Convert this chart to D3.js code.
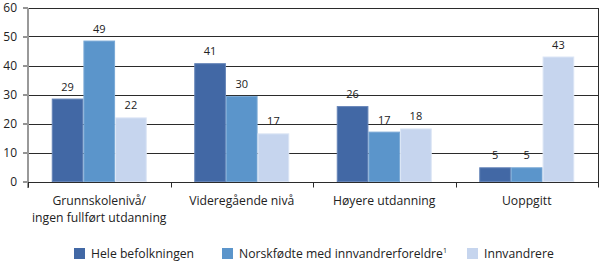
<!DOCTYPE html>
<html>
<head>
<meta charset="utf-8">
<script src="https://cdn.jsdelivr.net/npm/d3@7"></script>
<style>
  body { margin: 0; background: #fff; }
  svg { font-family: "Open Sans", sans-serif; }
</style>
</head>
<body>
<div id="chart"></div>
<script>
var categories = [
  ['Grunnskolenivå/', 'ingen fullført utdanning'],
  ['Videregående nivå'],
  ['Høyere utdanning'],
  ['Uoppgitt']
];
var seriesNames = ['Hele befolkningen', 'Norskfødte med innvandrerforeldre', 'Innvandrere'];
// values (labels are shown rounded)
var hele = [28.6, 40.8, 26.0, 4.9];
var norskfodte = [48.6, 29.5, 17.2, 4.9];
var innvandrere = [22.1, 16.6, 18.3, 43.1];
var yTicks = [0, 10, 20, 30, 40, 50, 60];

var colors = ['#4268a5', '#5b95cb', '#c6d5ee'];
var edges = ['#6584b8', '#7aa9d6', '#dbe5f5'];
var series = [hele, norskfodte, innvandrere];

var width = 600, height = 262;
var mLeft = 28, mRight = 598, mTop = 7.5, mBottom = 181.5;

var svg = d3.select('#chart').append('svg')
  .attr('width', width)
  .attr('height', height);

var x0 = d3.scaleBand()
  .domain(d3.range(categories.length))
  .range([mLeft, mRight])
  .paddingInner(0)
  .paddingOuter(0);

var x1 = d3.scaleBand()
  .domain(d3.range(series.length))
  .range([0, x0.bandwidth()])
  .paddingOuter(0.75)
  .paddingInner(0);

var y = d3.scaleLinear().domain([0, 60]).range([mBottom, mTop]);

// grid lines
svg.append('g').selectAll('line')
  .data(yTicks.slice(1))
  .enter().append('line')
  .attr('x1', mLeft).attr('x2', mRight)
  .attr('y1', function(d){ return Math.round(y(d)) + 0.5; })
  .attr('y2', function(d){ return Math.round(y(d)) + 0.5; })
  .attr('stroke', '#2b2b2b')
  .attr('stroke-width', 1);

// right border
svg.append('line')
  .attr('x1', mRight + 0.5).attr('x2', mRight + 0.5)
  .attr('y1', Math.round(y(60))).attr('y2', Math.round(y(0)) + 1)
  .attr('stroke', '#2b2b2b');

// bars
var groups = svg.append('g').selectAll('g')
  .data(categories)
  .enter().append('g')
  .attr('transform', function(d, i){ return 'translate(' + x0(i) + ',0)'; });

groups.selectAll('rect')
  .data(function(d, i){ return series.map(function(s, j){ return { s: j, v: s[i] }; }); })
  .enter().append('rect')
  .attr('x', function(d){ return x1(d.s) + 0.5; })
  .attr('width', x1.bandwidth() - 1)
  .attr('y', function(d){ return y(d.v) + 0.5; })
  .attr('height', function(d){ return y(0) - y(d.v) - 0.5; })
  .attr('fill', function(d){ return colors[d.s]; })
  .attr('stroke', function(d){ return edges[d.s]; })
  .attr('stroke-width', 1);

groups.selectAll('text')
  .data(function(d, i){ return series.map(function(s, j){ return { s: j, v: s[i] }; }); })
  .enter().append('text')
  .attr('x', function(d){ return x1(d.s) + x1.bandwidth() / 2; })
  .attr('y', function(d){ return y(d.v) - 8; })
  .attr('text-anchor', 'middle')
  .attr('font-size', 11)
  .attr('fill', '#222')
  .text(function(d){ return Math.round(d.v); });

// y axis
var yAxis = svg.append('g')
  .attr('transform', 'translate(' + mLeft + ',0)')
  .call(d3.axisLeft(y).tickValues(yTicks).tickSize(5).tickPadding(6).tickFormat(d3.format('d')));
yAxis.select('.domain').remove();
yAxis.selectAll('.tick line').attr('stroke', '#2b2b2b');
yAxis.selectAll('.tick text').attr('font-size', 12).attr('fill', '#222').attr('font-family', '"Open Sans", sans-serif');
svg.append('line')
  .attr('x1', mLeft).attr('x2', mLeft)
  .attr('y1', Math.round(y(60))).attr('y2', Math.round(y(0)) + 6)
  .attr('stroke', '#999').attr('stroke-width', 2);

// x axis
var xAxis = svg.append('g')
  .attr('transform', 'translate(0,' + (Math.round(y(0)) + 0.5) + ')');
xAxis.append('line')
  .attr('x1', mLeft).attr('x2', mRight + 1)
  .attr('stroke', '#2b2b2b');
xAxis.selectAll('line.tk')
  .data(d3.range(categories.length + 1))
  .enter().append('line')
  .attr('class', 'tk')
  .attr('x1', function(d){ return Math.round(mLeft + d * x0.bandwidth()) + 0.5; })
  .attr('x2', function(d){ return Math.round(mLeft + d * x0.bandwidth()) + 0.5; })
  .attr('y1', 0).attr('y2', 5)
  .attr('stroke', '#2b2b2b');

var catLabels = svg.append('g').selectAll('text')
  .data(categories)
  .enter().append('text')
  .attr('text-anchor', 'middle')
  .attr('font-size', 12.2)
  .attr('fill', '#222')
  .attr('x', function(d, i){ return x0(i) + x0.bandwidth() / 2; })
  .attr('y', 205);
catLabels.selectAll('tspan')
  .data(function(d){ return d; })
  .enter().append('tspan')
  .attr('x', function(){ return d3.select(this.parentNode).attr('x'); })
  .attr('dy', function(d, i){ return i === 0 ? 0 : 16.5; })
  .text(function(d){ return d; });

// legend
var legendX = [74, 222, 467];
var legend = svg.append('g').selectAll('g')
  .data(seriesNames)
  .enter().append('g')
  .attr('transform', function(d, i){ return 'translate(' + legendX[i] + ',248)'; });
legend.append('rect')
  .attr('width', 11).attr('height', 11)
  .attr('fill', function(d, i){ return colors[i]; });
var lt = legend.append('text')
  .attr('x', 17).attr('y', 10)
  .attr('font-size', 12.2)
  .attr('fill', '#222')
  .text(function(d){ return d; });
lt.filter(function(d, i){ return i === 1; })
  .append('tspan')
  .attr('font-size', 7)
  .attr('dy', -5)
  .text('1');
</script>
</body>
</html>
